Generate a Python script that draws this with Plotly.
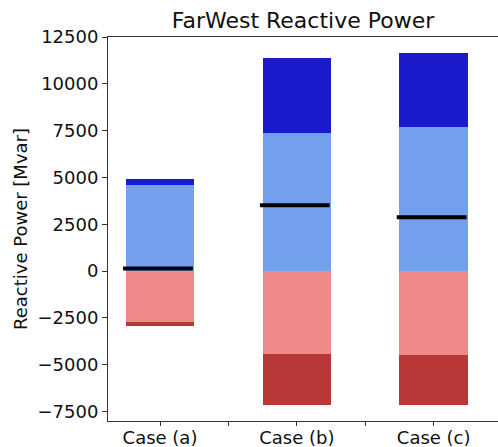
import plotly.graph_objects as go

cases = ["Case (a)", "Case (b)", "Case (c)"]
gen_low = [4590, 7390, 7670]      # light blue
gen_high = [320, 3990, 3960]      # dark blue
abs_low = [-2730, -4410, -4460]   # light red
abs_high = [-210, -2760, -2710]   # dark red
net = [145, 3520, 2875]           # black lines

y_ticks = [-7500, -5000, -2500, 0, 2500, 5000, 7500, 10000, 12500]

xs = list(range(len(cases)))
fig = go.Figure()
for vals, col in [(gen_low, "#739fec"), (gen_high, "#1a1acc"),
                  (abs_low, "#f08a8a"), (abs_high, "#b83838")]:
    fig.add_trace(go.Bar(x=xs, y=vals, width=0.5, marker=dict(color=col, line=dict(width=0)),
                         showlegend=False))

for i, v in enumerate(net):
    fig.add_trace(go.Scatter(x=[i - 0.27, i + 0.24], y=[v, v], mode="lines",
                             line=dict(color="black", width=4), showlegend=False))

tickvals = []
ticktext = []
for i, c in enumerate(cases):
    tickvals.append(i)
    ticktext.append(c)
    if i < len(cases) - 1:
        tickvals.append(i + 0.5)
        ticktext.append("")

font = "DejaVu Sans"
fig.update_layout(
    width=498, height=447,
    barmode="relative", bargap=0,
    plot_bgcolor="white", paper_bgcolor="white",
    margin=dict(l=108, r=0, t=37, b=26, autoexpand=False),
    font=dict(family=font, size=18, color="#111"),
    title=dict(text="FarWest Reactive Power", x=0.5, xref="paper", xanchor="center",
               y=1 - 20 / 447, yanchor="middle", font=dict(size=22, color="#111")),
    xaxis=dict(range=[-0.38, 2.47], tickvals=tickvals, ticktext=ticktext, automargin=False,
               showline=True, linecolor="#333", linewidth=1, mirror=True,
               ticks="outside", ticklen=4, tickcolor="#333", showgrid=False, zeroline=False,
               ticklabelstandoff=-4),
    yaxis=dict(range=[-8000, 12500], tickvals=y_ticks, automargin=False,
               tickformat="d",
               showline=True, linecolor="#333", linewidth=1,
               ticks="outside", ticklen=5, tickcolor="#333", showgrid=False, zeroline=False,
               title=dict(text="Reactive Power [Mvar]", standoff=5, font=dict(size=18))),
)
fig.write_html("out.html", post_script="document.body.style.margin='0';",
               config={"displayModeBar": False})
